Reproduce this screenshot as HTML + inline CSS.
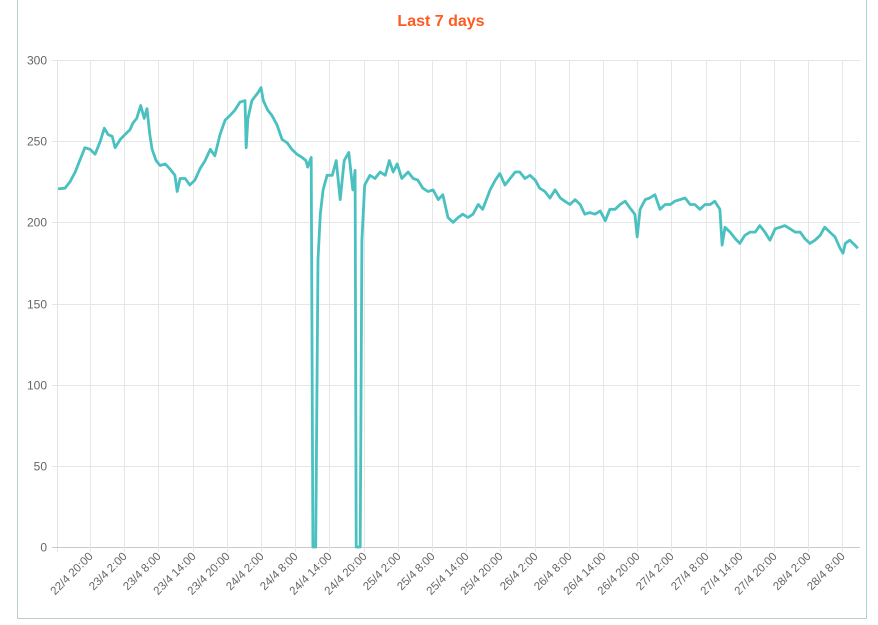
<!DOCTYPE html>
<html><head><meta charset="utf-8"><style>
html,body{margin:0;padding:0;background:#fff;}
svg{display:block;font-family:"Liberation Sans",sans-serif;}
</style></head><body>
<svg id="chart" width="878" height="625">
<line x1="17.5" y1="0" x2="17.5" y2="618.5" stroke="#b9cdd1"/>
<line x1="17.5" y1="618.5" x2="866.5" y2="618.5" stroke="#b9cdd1"/>
<line x1="866.5" y1="0" x2="866.5" y2="618.5" stroke="#b9cdd1"/>
<text x="441" y="26" text-anchor="middle" font-size="16" font-weight="bold" fill="#ff5a1f">Last 7 days</text>
<g id="grid"></g><g id="ax"></g><g id="series"></g>
</svg>
<script>
const hours=[-5.6,-4.4,-3.5,-2.6,-1.8,-0.9,0,0.9,1.8,2.5,3.2,3.9,4.4,5.3,6.1,7.0,7.5,8.2,8.9,9.5,10.0,10.5,10.9,11.6,12.3,13.2,14.0,14.9,15.3,15.8,16.7,17.5,18.4,19.3,20.2,21.1,21.9,22.8,23.7,24.6,25.4,26.3,27.2,27.4,27.7,28.4,29.5,30.0,30.4,31.2,31.9,32.8,33.7,34.6,35.4,36.3,37.2,37.9,38.2,38.8,39.1,39.6,40.0,40.4,40.9,41.6,42.5,43.2,43.9,44.6,45.4,46.1,46.5,46.7,47.4,47.7,48.2,49.1,50.0,50.9,51.8,52.5,53.2,53.9,54.7,55.8,56.7,57.5,58.4,59.3,60.2,61.1,61.9,62.8,63.7,64.6,65.4,66.3,67.2,68.1,68.9,70.2,71.1,71.9,72.8,73.7,74.6,75.4,76.3,77.2,78.1,78.9,79.8,80.7,81.6,82.5,83.3,84.2,85.1,86.0,86.8,87.7,88.6,89.5,90.4,91.2,92.1,93.0,93.9,94.7,95.6,96.0,96.5,97.4,98.2,99.1,100.0,100.9,101.8,102.6,103.5,104.4,105.3,106.1,107.0,107.9,108.8,109.6,110.5,110.9,111.4,112.3,113.2,114.0,114.9,115.8,116.7,117.5,118.4,119.3,120.2,121.1,121.9,122.8,123.7,124.6,125.4,126.3,127.2,128.1,128.9,129.8,130.7,131.6,132.1,132.5,133.3,134.2,134.7];
const values=[220.6,221,225,231,238,246,245,242,250,258,254,253,246,251,254,257,261,264,272,264,270,254,245,238,235,236,233,229,219,227,227,223,226,233,238,245,241,254,263,266,269,274,275,246,264,275,280,283,275,269,266,260,251,249,245,242,240,238,234,240,0,0,177,205,220,229,229,238,214,238,243,220,232,0,0,189,223,229,227,231,229,238,231,236,227,231,227,226,221,219,220,214,217,203,200,203,205,203,205,211,208,220,226,230,223,227,231,231,227,229,226,221,219,215,220,215,213,211,214,211,205,206,205,207,201,208,208,211,213,209,205,191,208,214,215,217,208,211,211,213,214,215,211,211,208,211,211,213,208,186,197,194,190,187,192,194,194,198,194,189,196,197,198,196,194,194,190,187,189,192,197,194,191,184,181,187,189,186,184];
const yTicks=[0,50,100,150,200,250,300];
const xTickLabels=["22/4 20:00","23/4 2:00","23/4 8:00","23/4 14:00","23/4 20:00","24/4 2:00","24/4 8:00","24/4 14:00","24/4 20:00","25/4 2:00","25/4 8:00","25/4 14:00","25/4 20:00","26/4 2:00","26/4 8:00","26/4 14:00","26/4 20:00","27/4 2:00","27/4 8:00","27/4 14:00","27/4 20:00","28/4 2:00","28/4 8:00"];
const NS="http://www.w3.org/2000/svg";
const L=57,R=860,T=60,B=547;
const xs=h=>90+h*5.7;
const ys=v=>B-(v/300)*(B-T);
function mk(p,tag,attrs){const e=document.createElementNS(NS,tag);for(const k in attrs)e.setAttribute(k,attrs[k]);p.appendChild(e);return e;}
const grid=document.getElementById('grid'),ax=document.getElementById('ax'),ser=document.getElementById('series');
mk(grid,'line',{x1:L+0.5,y1:T,x2:L+0.5,y2:B+5,stroke:'#e4e4e4'});
yTicks.forEach(v=>{
  const y=Math.round(ys(v))+0.5;
  const g=mk(grid,'line',{x1:L-5,y1:y,x2:R,y2:y,stroke:v===0?'#c8c8c8':'#e6e6e6'});
  
  
  const t=mk(ax,'text',{x:47,y:y+4,'text-anchor':'end','font-size':12,fill:'#666'});
  t.textContent=v;
  
  
});
xTickLabels.forEach((lab,i)=>{
  const x=Math.round(xs(i*6))+0.5;
  const g=mk(grid,'line',{x1:x,y1:T,x2:x,y2:B+5,stroke:'#e6e6e6'});
  
  
  const t=mk(ax,'text',{'text-anchor':'end','font-size':11.5,fill:'#666',transform:`translate(${x+3},${B+10}) rotate(-45)`});
  t.textContent=lab;
  
  
});
const d=hours.map((h,i)=>(i?'L':'M')+xs(h).toFixed(1)+','+ys(values[i]).toFixed(1)).join('');
const p=mk(ser,'path',{d:d,fill:'none',stroke:'#4bc0c0','stroke-width':2.8,'stroke-linejoin':'round'});


</script>
</body></html>
